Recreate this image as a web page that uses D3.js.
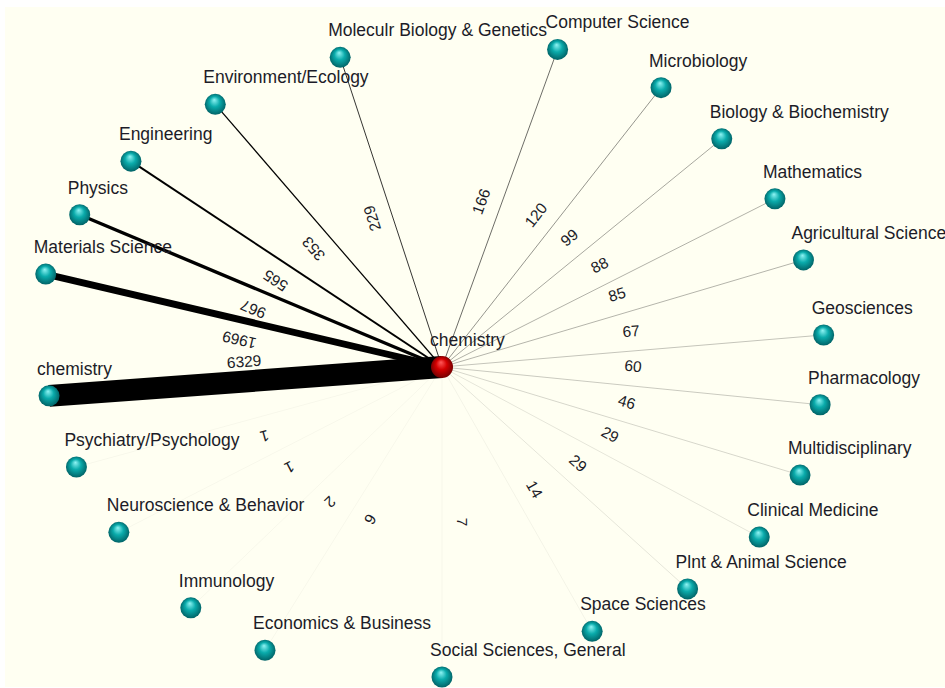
<!DOCTYPE html>
<html>
<head>
<meta charset="utf-8">
<script src="https://cdn.jsdelivr.net/npm/d3@7"></script>
<style>
  html, body { margin: 0; padding: 0; background: #fff; }
  svg { display: block; }
  text { font-family: "Liberation Sans", Arial, sans-serif; fill: #1c1c28; }
</style>
</head>
<body>
<svg id="chart" width="945" height="688"></svg>
<script>
// hub of the co-citation network
var hub = "chemistry";

// linked subject categories and link weights
var categories = [
	"chemistry", "Materials Science", "Physics", "Engineering", "Environment/Ecology",
	"Moleculr Biology & Genetics", "Computer Science", "Microbiology", "Biology & Biochemistry",
	"Mathematics", "Agricultural Science", "Geosciences", "Pharmacology", "Multidisciplinary",
	"Clinical Medicine", "Plnt & Animal Science", "Space Sciences", "Social Sciences, General",
	"Economics & Business", "Immunology", "Neuroscience & Behavior", "Psychiatry/Psychology"
];
var values = [6329, 1969, 967, 565, 353, 229, 166, 120, 99, 88, 85, 67, 60, 46, 29, 29, 14, 7, 6, 2, 1, 1];

// layout of the graph as exported: bearing (deg) and distance from the hub
var layoutAngle = [175.8, 193.2, 202.8, 213.5, 229.2, 251.8, 290.0, 308.1, 320.8, 333.2, 343.5,
	355.2, 5.7, 16.8, 28.2, 42.1, 60.4, 90.0, 122.0, 136.2, 152.9, 164.7];
var layoutDist = [394, 407, 393, 373, 347, 326, 338, 355, 361, 373, 377,
	383, 380, 374, 360, 331, 304, 310, 334, 348, 363, 379];

var svg = d3.select("#chart");
var W = 945, H = 688;
var cx = 442, cy = 367;

// cream panel
svg.append("rect")
	.attr("x", 5).attr("y", 7)
	.attr("width", W - 5).attr("height", H - 8)
	.attr("fill", "#fffff2");

var defs = svg.append("defs");
function ball(id, hi, mid, lo) {
	var g = defs.append("radialGradient").attr("id", id)
		.attr("cx", "50%").attr("cy", "50%").attr("r", "55%")
		.attr("fx", "45%").attr("fy", "28%");
	g.append("stop").attr("offset", "0%").attr("stop-color", hi);
	g.append("stop").attr("offset", "45%").attr("stop-color", mid);
	g.append("stop").attr("offset", "100%").attr("stop-color", lo);
}
ball("teal", "#8ff4f4", "#0aabab", "#005a5e");
ball("red", "#ff5a5a", "#d40000", "#6a0000");

// polar -> screen
var rad = function(d) { return d * Math.PI / 180; };
var nodes = categories.map(function(name, i) {
	return {
		name: name,
		value: values[i],
		x: cx + layoutDist[i] * Math.cos(rad(layoutAngle[i])),
		y: cy + layoutDist[i] * Math.sin(rad(layoutAngle[i]))
	};
});

var width = d3.scaleLinear().domain([0, d3.max(values)]).range([0, 22]);

var links = nodes.map(function(n) {
	// the self-citation edge is stored from the leaf back to the hub
	var s = n.name === hub ? n : {x: cx, y: cy};
	var t = n.name === hub ? {x: cx, y: cy} : n;
	return {s: s, t: t, value: n.value};
});

var gl = svg.append("g");
gl.selectAll("line").data(links.slice().reverse()).join("line")
	.attr("x1", function(d) { return d.s.x; })
	.attr("y1", function(d) { return d.s.y; })
	.attr("x2", function(d) { return d.t.x; })
	.attr("y2", function(d) { return d.t.y; })
	.attr("stroke", "#000")
	.attr("stroke-width", function(d) { return Math.max(1, width(d.value)); })
	.attr("stroke-opacity", function(d) { return Math.max(0.03, Math.min(1, width(d.value))); });

// weight labels, 20px above the middle of each edge, turned with it
gl.selectAll("text").data(links).join("text")
	.attr("transform", function(d) {
		var mx = (d.s.x + d.t.x) / 2, my = (d.s.y + d.t.y) / 2;
		var a = Math.atan2(d.t.y - d.s.y, d.t.x - d.s.x) * 180 / Math.PI;
		return "translate(" + mx + "," + my + ") rotate(" + a + ")";
	})
	.attr("y", -20)
	.attr("text-anchor", "middle")
	.attr("dominant-baseline", "central")
	.style("font-size", "15.5px")
	.text(function(d) { return d.value; });

var gn = svg.append("g");
gn.selectAll("circle").data(nodes).join("circle")
	.attr("cx", function(d) { return d.x; })
	.attr("cy", function(d) { return d.y; })
	.attr("r", 10.5)
	.attr("fill", "url(#teal)");

gn.selectAll("text").data(nodes).join("text")
	.attr("x", function(d) { return d.x - 12; })
	.attr("y", function(d) { return d.y - 21; })
	.style("font-size", "17.5px")
	.text(function(d) { return d.name; });

// hub
svg.append("circle")
	.attr("cx", cx).attr("cy", cy).attr("r", 11)
	.attr("fill", "url(#red)");
svg.append("text")
	.attr("x", cx - 12).attr("y", cy - 21)
	.style("font-size", "17.5px")
	.text(hub);
</script>
</body>
</html>
